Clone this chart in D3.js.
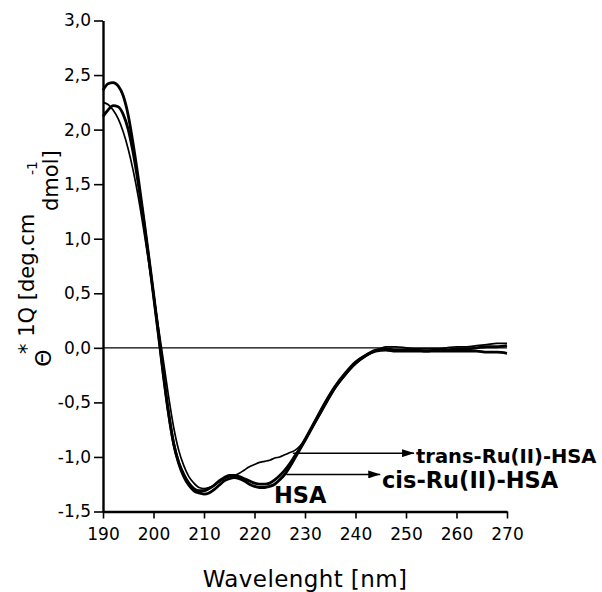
<!DOCTYPE html>
<html>
<head>
<meta charset="utf-8">
<script src="https://cdn.jsdelivr.net/npm/d3@7"></script>
<style>
body{margin:0;background:#fff;}
svg{display:block;}
</style>
</head>
<body>
<div id="chart"></div>
<script>
// wavelength points (nm)
var wavelength=[190,191,192,193,194,195,196,197,198,199,
    200,201,202,203,204,205,206,207,208,209,
    210,211,212,213,214,215,216,217,218,219,
    220,221,222,223,224,225,226,227,228,229,230,
    232,234,236,238,240,242,244,246,248,250,
    252,254,256,258,260,262,264,266,268,270];

var hsa=[2.36,2.42,2.43,2.40,2.31,2.13,1.86,1.55,1.21,0.86,
    0.50,0.13,-0.25,-0.60,-0.88,-1.06,-1.18,-1.26,-1.31,-1.33,
    -1.34,-1.33,-1.30,-1.26,-1.22,-1.20,-1.19,-1.20,-1.22,-1.25,
    -1.27,-1.28,-1.28,-1.27,-1.25,-1.21,-1.16,-1.09,-1.01,-0.93,-0.85,
    -0.68,-0.51,-0.36,-0.24,-0.14,-0.07,-0.03,-0.02,-0.03,-0.03,
    -0.03,-0.03,-0.03,-0.03,-0.03,-0.03,-0.03,-0.04,-0.04,-0.05];

var cisRu=[2.12,2.18,2.22,2.21,2.14,2.00,1.78,1.50,1.18,0.84,
    0.48,0.11,-0.27,-0.61,-0.88,-1.05,-1.16,-1.24,-1.29,-1.31,
    -1.31,-1.29,-1.26,-1.22,-1.19,-1.17,-1.17,-1.18,-1.20,-1.22,
    -1.24,-1.25,-1.25,-1.24,-1.21,-1.17,-1.12,-1.06,-0.99,-0.92,-0.84,
    -0.67,-0.50,-0.35,-0.23,-0.13,-0.07,-0.02,-0.01,-0.02,-0.02,
    -0.02,-0.03,-0.02,-0.02,-0.01,-0.01,0.00,0.01,0.01,0.02];

var transRu=[2.25,2.23,2.18,2.10,1.98,1.82,1.62,1.38,1.10,0.80,
    0.49,0.18,-0.13,-0.45,-0.73,-0.94,-1.08,-1.18,-1.24,-1.28,
    -1.29,-1.28,-1.26,-1.23,-1.20,-1.18,-1.17,-1.15,-1.12,-1.09,
    -1.07,-1.05,-1.04,-1.03,-1.01,-1.00,-0.98,-0.96,-0.94,-0.90,-0.84,
    -0.69,-0.53,-0.37,-0.25,-0.15,-0.08,-0.03,0.01,0.01,0.00,
    -0.01,-0.01,-0.01,0.00,0.01,0.01,0.02,0.03,0.04,0.04];

var xTicks=[190,200,210,220,230,240,250,260,270];
var yTicks=[-1.5,-1.0,-0.5,0.0,0.5,1.0,1.5,2.0,2.5,3.0];

var width=602,height=592;
var font="'DejaVu Sans', sans-serif";

var svg=d3.select("#chart").append("svg")
    .attr("width",width)
    .attr("height",height);

var x=d3.scaleLinear().domain([190,270]).range([103,507]);
var y=d3.scaleLinear().domain([-1.5,3]).range([511.5,20.5]);

var commaFmt=function(d){
    return d3.format(".1f")(d).replace(".",",").replace("\u2212","-");
};

// zero line
svg.append("line")
    .attr("x1",x(190)).attr("x2",x(270))
    .attr("y1",y(0)).attr("y2",y(0))
    .attr("stroke","#000")
    .attr("stroke-width",1.2);

//curves
var line=d3.line()
    .x(function(d,i){return x(wavelength[i]);})
    .y(function(d){return y(d);})
    .curve(d3.curveMonotoneX);

var series=[
    {values:hsa,w:2.8},
    {values:cisRu,w:2.8},
    {values:transRu,w:1.7}
];
svg.selectAll("path.spec")
    .data(series)
    .enter().append("path")
    .attr("class","spec")
    .attr("d",function(d){return line(d.values);})
    .attr("fill","none")
    .attr("stroke","#000")
    .attr("stroke-width",function(d){return d.w;})
    .attr("stroke-linejoin","round");

//axes
var yMinor=d3.range(-1.25,3,0.5);
var xMinor=d3.range(195,270,10);

var gy=svg.append("g").attr("transform","translate("+x(190)+",0)");
gy.call(d3.axisLeft(y).tickValues(yMinor).tickSize(5).tickSizeOuter(0).tickFormat(""));
gy.call(d3.axisLeft(y).tickValues(yTicks).tickSize(9).tickPadding(3).tickSizeOuter(0).tickFormat(commaFmt));

var gx=svg.append("g").attr("transform","translate(0,"+y(-1.5)+")");
gx.call(d3.axisBottom(x).tickValues(xMinor).tickSize(4).tickSizeOuter(0).tickFormat(""));
gx.call(d3.axisBottom(x).tickValues(xTicks).tickSize(7).tickPadding(9).tickSizeOuter(0));

svg.selectAll(".domain").attr("stroke-width",2.4);
svg.selectAll(".tick line").attr("stroke-width",1.6);
svg.selectAll(".tick text")
    .style("font-family",font)
    .style("font-size","17px")
    .attr("fill","#000");

// x title
svg.append("text")
    .attr("x",305)
    .attr("y",587)
    .attr("text-anchor","middle")
    .style("font-family",font)
    .style("font-size","23px")
    .style("letter-spacing","0.4px")
    .text("Wavelenght [nm]");

// y title pieces
var yt=svg.append("g").style("font-family",font);
yt.append("text")
    .attr("transform","translate(34,354) rotate(-90)")
    .style("font-size","21px")
    .text("* 1Q [deg.cm");
yt.append("text")
    .attr("transform","translate(51,358) rotate(-90)")
    .attr("text-anchor","middle")
    .style("font-size","22px")
    .text("\u0398");
yt.append("text")
    .attr("transform","translate(37,168) rotate(-90)")
    .attr("text-anchor","middle")
    .style("font-size","14px")
    .text("-1");
yt.append("text")
    .attr("transform","translate(58,211) rotate(-90)")
    .style("font-size","21px")
    .text("dmol]");

// arrows and labels
svg.append("defs").append("marker")
    .attr("id","arrow")
    .attr("markerUnits","userSpaceOnUse")
    .attr("viewBox","0 0 12 8")
    .attr("refX",12).attr("refY",4)
    .attr("markerWidth",12).attr("markerHeight",8)
    .attr("orient","auto")
    .append("path")
    .attr("d","M0,0L12,4L0,8Z")
    .attr("fill","#000");

var notes=[
    {text:"trans-Ru(II)-HSA",from:227.6,to:251.6,level:-0.965,tx:416,ty:463,size:19.5},
    {text:"cis-Ru(II)-HSA",from:226.3,to:244.9,level:-1.16,tx:382,ty:488,size:22.5},
    {text:"HSA",from:null,to:null,level:null,tx:274,ty:503,size:22.5}
];
notes.forEach(function(n){
    if(n.from!==null){
        svg.append("line")
            .attr("x1",x(n.from)).attr("x2",x(n.to))
            .attr("y1",y(n.level)).attr("y2",y(n.level))
            .attr("stroke","#000")
            .attr("stroke-width",1.5)
            .attr("marker-end","url(#arrow)");
    }
    svg.append("text")
        .attr("x",n.tx)
        .attr("y",n.ty)
        .style("font-family",font)
        .style("font-weight","bold")
        .style("font-size",n.size+"px")
        .text(n.text);
});
</script>
</body>
</html>
